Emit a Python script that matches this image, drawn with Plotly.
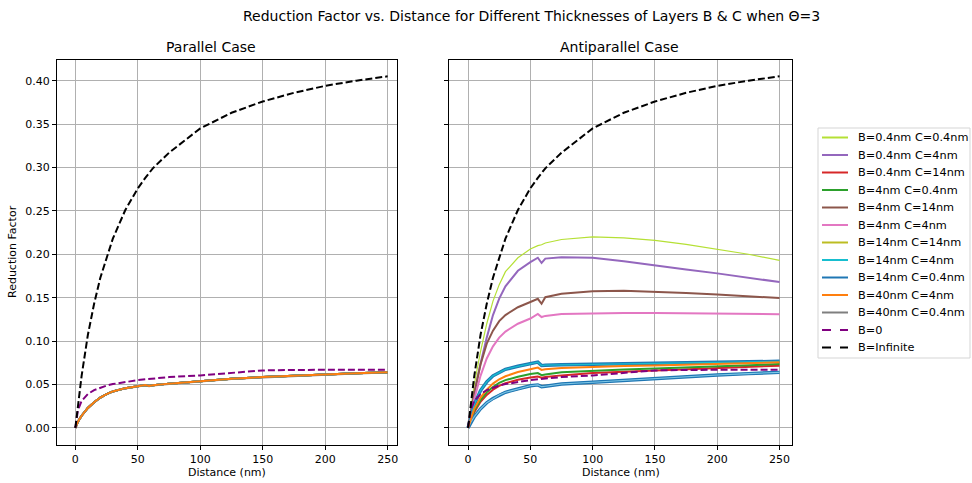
import plotly.graph_objects as go

# Distance grid (nm) shared by every series
distance = [0, 2, 5, 10, 15, 20, 25, 30, 40, 50, 56, 59, 62, 75, 100, 125, 150, 175, 200, 225, 250]

# Reference curves (same in both panels)
b_zero = [0, 0.020, 0.031, 0.039, 0.0435, 0.0465, 0.0488, 0.0505, 0.053, 0.055, 0.056, 0.0565, 0.057,
          0.0585, 0.0605, 0.0635, 0.0662, 0.0668, 0.067, 0.067, 0.067]
b_infinite = [0, 0.026, 0.060, 0.107, 0.143, 0.173, 0.197, 0.218, 0.251, 0.276, 0.288, 0.294, 0.299,
              0.317, 0.345, 0.363, 0.376, 0.386, 0.394, 0.400, 0.405]

# Parallel case: all finite-thickness curves nearly coincide
par_common = [0, 0.007, 0.014, 0.023, 0.0295, 0.035, 0.039, 0.042, 0.0458, 0.0485, 0.0495, 0.0483, 0.049,
              0.051, 0.054, 0.0565, 0.0585, 0.0602, 0.0617, 0.063, 0.0642]
par_b40_c04 = [0, 0.007, 0.014, 0.023, 0.0293, 0.0348, 0.0388, 0.0418, 0.0455, 0.0482, 0.0492, 0.048, 0.0487,
               0.0507, 0.0537, 0.0562, 0.0582, 0.0599, 0.0614, 0.0627, 0.0639]
par_b40_c4 = [0, 0.007, 0.014, 0.023, 0.0295, 0.035, 0.039, 0.042, 0.0458, 0.0485, 0.0495, 0.0483, 0.049,
              0.051, 0.054, 0.0565, 0.0585, 0.0602, 0.0617, 0.063, 0.0642]

# Antiparallel case
ap_b04_c04 = [0, 0.020, 0.050, 0.088, 0.120, 0.146, 0.165, 0.180, 0.196, 0.206, 0.210, 0.211, 0.213,
              0.217, 0.220, 0.219, 0.216, 0.2115, 0.206, 0.200, 0.193]
ap_b04_c4 = [0, 0.016, 0.040, 0.074, 0.104, 0.130, 0.149, 0.163, 0.181, 0.191, 0.196, 0.190, 0.195,
             0.1965, 0.196, 0.192, 0.187, 0.1825, 0.178, 0.173, 0.168]
ap_b04_c14 = [0, 0.008, 0.018, 0.030, 0.038, 0.044, 0.0485, 0.0515, 0.0555, 0.058, 0.0592, 0.0578, 0.0585,
              0.0605, 0.0632, 0.0647, 0.0662, 0.0676, 0.069, 0.0703, 0.0717]
ap_b4_c04 = [0, 0.009, 0.020, 0.032, 0.041, 0.047, 0.052, 0.055, 0.059, 0.062, 0.0632, 0.0607, 0.0615,
             0.064, 0.0659, 0.0672, 0.0685, 0.0698, 0.071, 0.0722, 0.0735]
ap_b4_c14 = [0, 0.016, 0.040, 0.073, 0.097, 0.112, 0.123, 0.130, 0.139, 0.145, 0.1487, 0.143, 0.1505,
             0.1545, 0.1574, 0.158, 0.157, 0.1555, 0.1538, 0.1517, 0.1495]
ap_b4_c4 = [0, 0.014, 0.033, 0.060, 0.080, 0.094, 0.104, 0.111, 0.120, 0.126, 0.1312, 0.1277, 0.129,
            0.1312, 0.1322, 0.1325, 0.1325, 0.132, 0.1318, 0.1314, 0.131]
ap_b14_c14 = [0, 0.012, 0.027, 0.043, 0.053, 0.060, 0.064, 0.0675, 0.071, 0.0735, 0.0756, 0.0718, 0.0722,
              0.0727, 0.0733, 0.0738, 0.0743, 0.0749, 0.0755, 0.0761, 0.0767]
ap_b14_c4 = [0, 0.012, 0.027, 0.043, 0.053, 0.060, 0.064, 0.0675, 0.071, 0.0735, 0.0757, 0.0718, 0.0722,
             0.0727, 0.0733, 0.0738, 0.0743, 0.0749, 0.0755, 0.0761, 0.0767]
ap_b14_c04 = [0, 0.006, 0.013, 0.022, 0.029, 0.034, 0.038, 0.041, 0.045, 0.0485, 0.0495, 0.0475, 0.048,
              0.0505, 0.0525, 0.0548, 0.057, 0.059, 0.061, 0.0625, 0.064]
ap_b40_c4 = [0, 0.010, 0.022, 0.035, 0.044, 0.051, 0.056, 0.0595, 0.0643, 0.0675, 0.0695, 0.0668, 0.0675,
             0.069, 0.0705, 0.0713, 0.072, 0.0729, 0.0738, 0.0746, 0.0755]
ap_b40_c04 = [0, 0.006, 0.013, 0.022, 0.029, 0.034, 0.038, 0.041, 0.045, 0.0485, 0.0495, 0.0475, 0.048,
              0.0505, 0.0525, 0.0548, 0.057, 0.059, 0.061, 0.0625, 0.064]

labels = ["B=0.4nm C=0.4nm", "B=0.4nm C=4nm", "B=0.4nm C=14nm", "B=4nm C=0.4nm", "B=4nm C=14nm",
          "B=4nm C=4nm", "B=14nm C=14nm", "B=14nm C=4nm", "B=14nm C=0.4nm", "B=40nm C=4nm",
          "B=40nm C=0.4nm", "B=0", "B=Infinite"]
colors = ["#b5e035", "#9467bd", "#d62728", "#2ca02c", "#8c564b", "#e377c2", "#bcbd22", "#17becf",
          "#1f77b4", "#ff7f0e", "#7f7f7f", "purple", "black"]

par_series = [par_common] * 9 + [par_b40_c4, par_b40_c04]
ap_series = [ap_b04_c04, ap_b04_c4, ap_b04_c14, ap_b4_c04, ap_b4_c14, ap_b4_c4,
             ap_b14_c14, ap_b14_c4, ap_b14_c04, ap_b40_c4, ap_b40_c04]

FONT = "DejaVu Sans"
DASH = "7px,3px"
fig = go.Figure()


def add(xref, yref, y, name, color, width, dash=None):
    fig.add_trace(go.Scatter(
        x=distance, y=y, mode="lines", name=name, xaxis=xref, yaxis=yref,
        line=dict(color=color, width=width, dash=dash), showlegend=False))


# Parallel panel: gray first, then the overlapping group, orange on top
add("x", "y", par_series[10], labels[10], colors[10], 2)
for i in range(9):
    add("x", "y", par_series[i], labels[i], colors[i], 2)
add("x", "y", par_series[9], labels[9], colors[9], 2)
add("x", "y", b_zero, labels[11], colors[11], 2, DASH)
add("x", "y", b_infinite, labels[12], colors[12], 2, DASH)

# Antiparallel panel
for i in [6, 10, 0, 1, 2, 3, 4, 5]:
    add("x2", "y2", ap_series[i], labels[i], colors[i], 1.2 if i == 0 else 2)
# the two blue-ish curves: dark edge with a light core
add("x2", "y2", ap_b14_c4, labels[8], colors[8], 3.4)
add("x2", "y2", ap_b14_c4, labels[7], colors[7], 1.3)
add("x2", "y2", ap_b14_c04, labels[8], colors[8], 3.4)
add("x2", "y2", ap_b14_c04, labels[7], "#7fc8e6", 1.1)
add("x2", "y2", ap_b40_c4, labels[9], colors[9], 2)
add("x2", "y2", b_zero, labels[11], colors[11], 2, DASH)
add("x2", "y2", b_infinite, labels[12], colors[12], 2, DASH)

W, H = 972, 483
L1, R1, L2, R2, T, B = 57, 397, 449, 792, 60, 445

axis_common = dict(showgrid=True, gridcolor="#b0b0b0", gridwidth=0.8, showline=True, linecolor="black",
                   linewidth=1, mirror=True, ticks="outside", ticklen=4, tickcolor="black",
                   tickfont=dict(family=FONT, size=11, color="black"), zeroline=False)
xticks = [0, 50, 100, 150, 200, 250]
yticks = [0, 0.05, 0.1, 0.15, 0.2, 0.25, 0.3, 0.35, 0.4]

fig.update_layout(
    width=W, height=H, margin=dict(l=0, r=0, t=0, b=0),
    plot_bgcolor="white", paper_bgcolor="white",
    font=dict(family=FONT, color="black"), showlegend=False,
    xaxis=dict(domain=[L1 / W, R1 / W], range=[-14.7, 257.5], tickvals=xticks, anchor="y", **axis_common),
    yaxis=dict(domain=[1 - B / H, 1 - T / H], range=[-0.0197, 0.4238], tickvals=yticks,
               tickformat=".2f", anchor="x", **axis_common),
    xaxis2=dict(domain=[L2 / W, R2 / W], range=[-15.3, 260], tickvals=xticks, anchor="y2", **axis_common),
    yaxis2=dict(domain=[1 - B / H, 1 - T / H], range=[-0.0197, 0.4238], tickvals=yticks,
                showticklabels=False, anchor="x2", **axis_common),
)

# Legend box with line samples and labels
LEG_X0, LEG_X1, LEG_Y0, LEG_Y1 = 818, 970, 128, 358
ROW0, ROW_STEP = 137.5, 17.5
fig.add_shape(type="rect", xref="paper", yref="paper", x0=LEG_X0 / W, x1=LEG_X1 / W,
              y0=1 - LEG_Y1 / H, y1=1 - LEG_Y0 / H, line=dict(color="#d5d5d5", width=1),
              fillcolor="rgba(255,255,255,0.8)", layer="above")
for k, (lab, col) in enumerate(zip(labels, colors)):
    yk = 1 - (ROW0 + ROW_STEP * k) / H
    dashed = k >= 11
    fig.add_shape(type="line", xref="paper", yref="paper", x0=822 / W, x1=848 / W, y0=yk, y1=yk,
                  line=dict(color=col, width=2, dash="dash" if dashed else None), layer="above")
    fig.add_annotation(text=lab, xref="paper", yref="paper", x=856 / W, y=yk, xanchor="left",
                       yanchor="middle", showarrow=False,
                       font=dict(family=FONT, size=11.3, color="black"))

annotations = [
    dict(text="Reduction Factor vs. Distance for Different Thicknesses of Layers B & C when \u0398=3",
         x=531 / W, y=1 - 16 / H, font=dict(size=14)),
    dict(text="Parallel Case", x=211 / W, y=1 - 47 / H, font=dict(size=14)),
    dict(text="Antiparallel Case", x=619 / W, y=1 - 47 / H, font=dict(size=14)),
    dict(text="Distance (nm)", x=(L1 + R1) / 2 / W, y=1 - 472 / H, font=dict(size=11)),
    dict(text="Distance (nm)", x=(L2 + R2) / 2 / W, y=1 - 472 / H, font=dict(size=11)),
    dict(text="Reduction Factor", x=12 / W, y=1 - 252 / H, textangle=-90, font=dict(size=11)),
]
for a in annotations:
    a["font"].update(family=FONT, color="black")
    fig.add_annotation(xref="paper", yref="paper", showarrow=False, xanchor="center", yanchor="middle", **a)

fig.write_html("out.html")
